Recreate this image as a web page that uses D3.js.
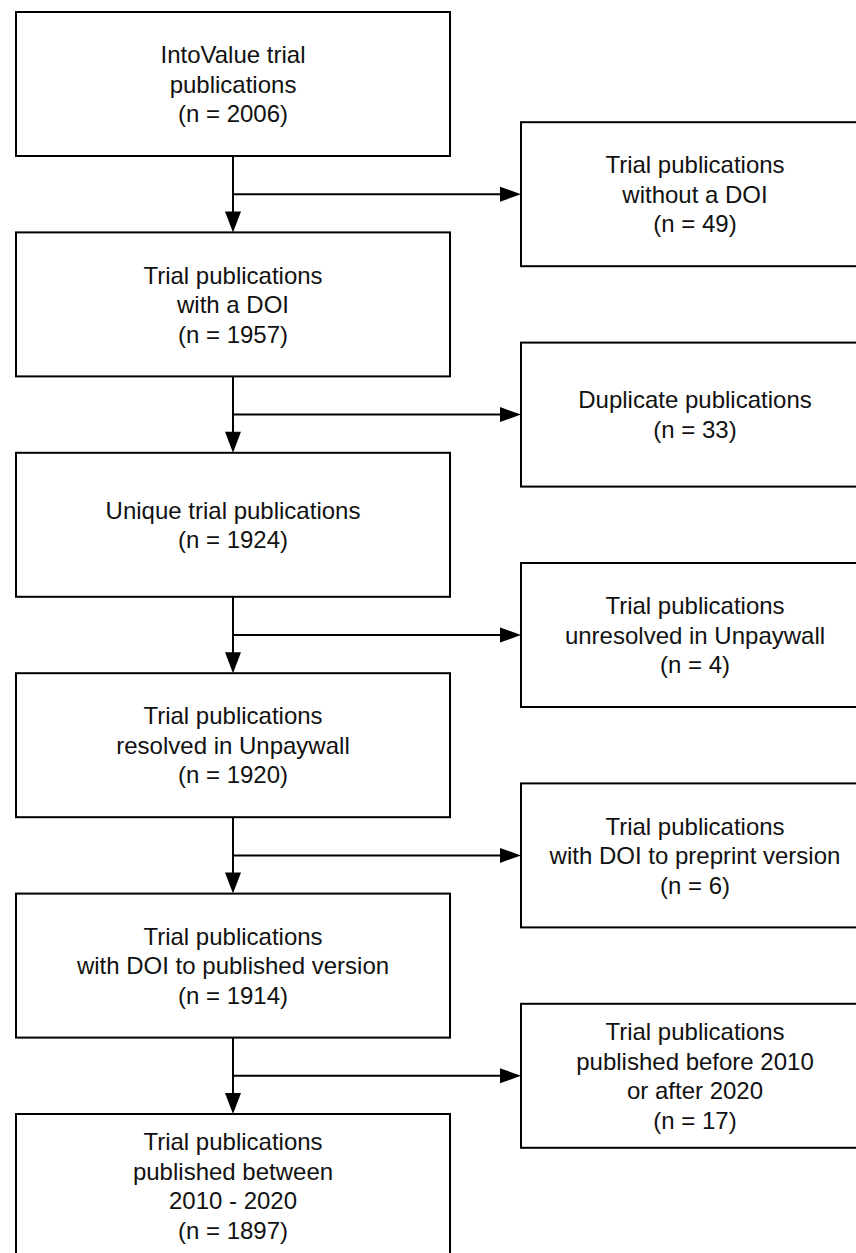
<!DOCTYPE html>
<html lang="en">
<head>
<meta charset="UTF-8">
<title>IntoValue trial publications flow</title>
<style>
    body { margin: 0; background: #fff; }
    text {
        font-family: 'Liberation Sans', Arial, sans-serif;
        font-size: 24px;
        fill: #111;
    }
</style>
</head>
<body>
<div id="container"></div>
<script src="https://d3js.org/d3.v7.min.js"></script>
<script>
// main boxes, top to bottom
const stepLabels = [
    ["IntoValue trial", "publications"],
    ["Trial publications", "with a DOI"],
    ["Unique trial publications"],
    ["Trial publications", "resolved in Unpaywall"],
    ["Trial publications", "with DOI to published version"],
    ["Trial publications", "published between", "2010 - 2020"]
];
const stepCounts = [2006, 1957, 1924, 1920, 1914, 1897];

// excluded boxes on the right, one for each arrow
const exclLabels = [
    ["Trial publications", "without a DOI"],
    ["Duplicate publications"],
    ["Trial publications", "unresolved in Unpaywall"],
    ["Trial publications", "with DOI to preprint version"],
    ["Trial publications", "published before 2010", "or after 2020"]
];
const exclCounts = [49, 33, 4, 6, 17];

const width = 856, height = 1253;
const boxH = 144;
const lineH = 29.5;
const left = {x: 16, w: 434};
const right = {x: 521, w: 348};
const cx = left.x + left.w / 2;

// row index -> top of the main box
const y = d3.scaleLinear().domain([0, stepCounts.length - 1]).range([12, 1114]);
const gap = y(1) - y(0) - boxH;

const svg = d3.select('#container').append('svg')
    .attr('width', width).attr('height', height);

// put the lines of a box, centred round cy
function writeLines(g, lines, x, cy) {
    const t = g.append('text').attr('text-anchor', 'middle');
    lines.forEach((s, i) => {
        t.append('tspan')
            .attr('x', x)
            .attr('y', cy + (i - (lines.length - 1) / 2) * lineH)
            .attr('dy', '0.36em')
            .text(s);
    });
}

const steps = stepLabels.map((l, i) => ({lines: l.concat(`(n = ${stepCounts[i]})`), i}));
const excl = exclLabels.map((l, i) => ({lines: l.concat(`(n = ${exclCounts[i]})`), i}));

// arrows first so the boxes sit on top
const arrows = svg.append('g');
excl.forEach(d => {
    const y0 = y(d.i) + boxH, y1 = y(d.i + 1);
    const by = y0 + gap / 2;
    arrows.append('path')
        .attr('d', `M${cx},${y0}V${y1 - 18}M${cx},${by}H${right.x - 18}`)
        .attr('stroke', '#000').attr('stroke-width', 2).attr('fill', 'none');
    // heads
    arrows.append('path')
        .attr('d', `M${cx},${y1}L${cx - 8},${y1 - 21}L${cx + 8},${y1 - 21}Z`)
        .attr('fill', '#000');
    arrows.append('path')
        .attr('d', `M${right.x},${by}L${right.x - 21},${by - 7.5}L${right.x - 21},${by + 7.5}Z`)
        .attr('fill', '#000');
});

const stepG = svg.selectAll('g.step').data(steps).join('g').attr('class', 'step');
stepG.append('rect')
    .attr('x', left.x).attr('y', d => y(d.i))
    .attr('width', left.w).attr('height', boxH)
    .attr('fill', '#fff').attr('stroke', '#000').attr('stroke-width', 2);
stepG.each(function(d) { writeLines(d3.select(this), d.lines, cx, y(d.i) + boxH / 2); });

const exclG = svg.selectAll('g.excl').data(excl).join('g').attr('class', 'excl');
exclG.append('rect')
    .attr('x', right.x).attr('y', d => y(d.i) + boxH + gap / 2 - boxH / 2)
    .attr('width', right.w).attr('height', boxH)
    .attr('fill', '#fff').attr('stroke', '#000').attr('stroke-width', 2);
exclG.each(function(d) {
    writeLines(d3.select(this), d.lines, right.x + right.w / 2, y(d.i) + boxH + gap / 2);
});
</script>
</body>
</html>
